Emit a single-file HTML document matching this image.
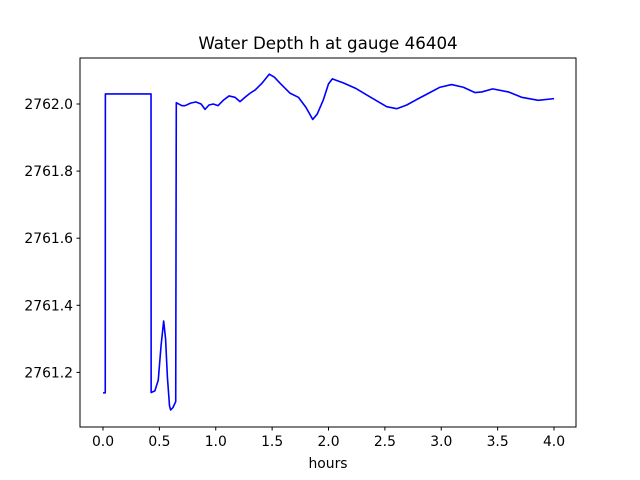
<!DOCTYPE html>
<html><head><meta charset="utf-8"><style>
body{margin:0;background:#fff}
svg{display:block;font-family:"DejaVu Sans","Liberation Sans",sans-serif}
</style></head><body>
<svg id="chart" width="640" height="480" viewBox="0 0 640 480">
<rect x="0" y="0" width="640" height="480" fill="#fff"/>
<text x="328" y="49" text-anchor="middle" font-size="16.7">Water Depth h at gauge 46404</text>
<g id="plot"></g>
<rect x="80" y="58" width="496" height="369" fill="none" stroke="#000" stroke-width="1"/>
<g id="xticks"></g><g id="yticks"></g>
<text x="328" y="468" text-anchor="middle" font-size="13.9">hours</text>
</svg>
<script>
const times=[0,0.02,0.021,0.426,0.427,0.46,0.49,0.515,0.538,0.555,0.571,0.59,0.60,0.62,0.645,0.65,0.70,0.727,0.78,0.825,0.87,0.905,0.94,0.978,1.02,1.07,1.118,1.17,1.215,1.26,1.304,1.35,1.41,1.475,1.52,1.57,1.66,1.733,1.80,1.86,1.90,1.954,2.0,2.034,2.131,2.239,2.339,2.45,2.516,2.605,2.694,2.78,2.871,2.989,3.092,3.196,3.3,3.36,3.456,3.595,3.713,3.861,4.0];
const depths=[2761.139,2761.139,2762.03,2762.03,2761.14,2761.145,2761.177,2761.28,2761.353,2761.30,2761.187,2761.10,2761.088,2761.095,2761.113,2762.004,2761.995,2761.995,2762.003,2762.006,2762.0,2761.984,2761.997,2762.0,2761.995,2762.012,2762.024,2762.02,2762.007,2762.02,2762.032,2762.042,2762.062,2762.089,2762.08,2762.062,2762.032,2762.02,2761.99,2761.954,2761.97,2762.012,2762.06,2762.075,2762.063,2762.047,2762.027,2762.005,2761.992,2761.986,2761.997,2762.013,2762.029,2762.05,2762.058,2762.05,2762.034,2762.036,2762.045,2762.036,2762.02,2762.011,2762.016];
const xTickVals=[0,0.5,1,1.5,2,2.5,3,3.5,4];
const xTickLabels=["0.0","0.5","1.0","1.5","2.0","2.5","3.0","3.5","4.0"];
const yTickVals=[2761.2,2761.4,2761.6,2761.8,2762.0];
const yTickLabels=["2761.2","2761.4","2761.6","2761.8","2762.0"];
const NS="http://www.w3.org/2000/svg";
function xs(t){return 103+t*112.75;}
function ys(h){return 104-(h-2762)*335.5;}
const plot=document.getElementById('plot');
const pl=document.createElementNS(NS,'polyline');


pl.setAttribute('points',times.map((t,i)=>xs(t).toFixed(2)+','+ys(depths[i]).toFixed(2)).join(' '));
pl.setAttribute('fill','none');pl.setAttribute('stroke','#0000ff');pl.setAttribute('stroke-width','1.6');pl.setAttribute('stroke-linejoin','round');
plot.appendChild(pl);
const xg=document.getElementById('xticks');
xTickVals.forEach((v,i)=>{
 const l=document.createElementNS(NS,'line');
 
 
 l.setAttribute('x1',xs(v));l.setAttribute('x2',xs(v));l.setAttribute('y1',427);l.setAttribute('y2',430.5);l.setAttribute('stroke','#000');
 xg.appendChild(l);
 const t=document.createElementNS(NS,'text');
 
 
 t.setAttribute('x',xs(v));t.setAttribute('y',446);t.setAttribute('text-anchor','middle');t.setAttribute('font-size','13.9');
 t.textContent=xTickLabels[i];xg.appendChild(t);
});
const yg=document.getElementById('yticks');
yTickVals.forEach((v,i)=>{
 const l=document.createElementNS(NS,'line');
 
 
 l.setAttribute('x1',76.5);l.setAttribute('x2',80);l.setAttribute('y1',ys(v));l.setAttribute('y2',ys(v));l.setAttribute('stroke','#000');
 yg.appendChild(l);
 const t=document.createElementNS(NS,'text');
 
 
 t.setAttribute('x',73);t.setAttribute('y',ys(v)+5);t.setAttribute('text-anchor','end');t.setAttribute('font-size','13.9');
 t.textContent=yTickLabels[i];yg.appendChild(t);
});
</script>
</body></html>
